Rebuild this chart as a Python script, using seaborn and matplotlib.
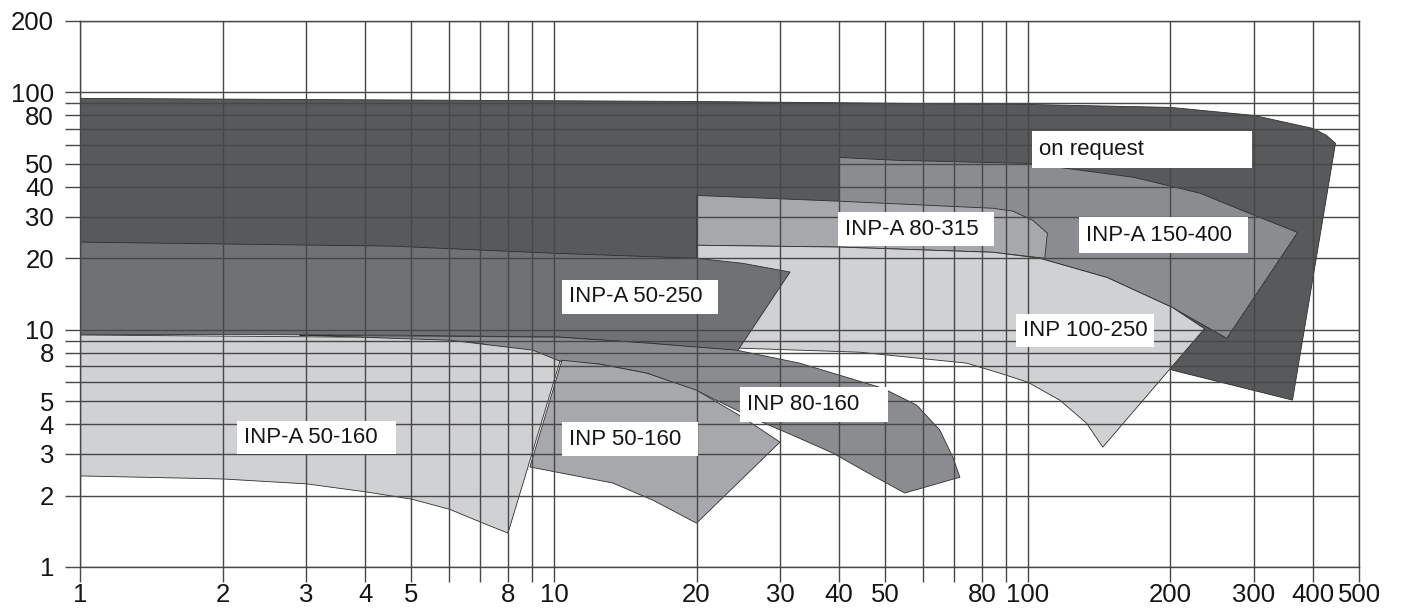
import matplotlib
matplotlib.use("Agg")
import matplotlib.pyplot as plt
import numpy as np
import pandas as pd
import seaborn as sns
from matplotlib.patches import Rectangle
from matplotlib.ticker import FixedLocator, FixedFormatter, NullLocator

# ---------------- data (flow Q on x, head H on y) ----------------
on_request_q = [1, 20, 100, 200, 300, 400, 427, 446, 362, 202, 156, 1]
on_request_h = [94.4, 91.6, 89.0, 86.5, 80, 70.5, 65.9, 61, 5.05, 6.75, 11.0, 13.3]

inpa_150_400_q = [40, 53.7, 101, 167, 231, 294, 371, 263, 202, 147, 106, 40]
inpa_150_400_h = [53.2, 51.7, 50.2, 43.9, 37.6, 30.9, 25.7, 9.2, 12.4, 16.6, 20.0, 21.6]

inpa_80_315_q = [20, 40, 84.4, 93, 102.5, 110, 108.6, 84.4, 40, 20]
inpa_80_315_h = [36.8, 34.8, 32.5, 31.6, 28.9, 25.5, 20.0, 21.2, 22.3, 22.7]

inp_100_250_q = [20, 40, 84.4, 106, 147, 202, 236, 144, 133, 116.8, 100, 87.3, 74.3, 44.2, 24.7, 20]
inp_100_250_h = [22.7, 22.3, 21.2, 20.0, 16.6, 12.4, 10.1, 3.2, 4.04, 5.05, 6.01, 6.56, 7.23, 8.04, 8.36, 8.52]

inpa_50_250_q = [1, 4.57, 10, 20, 25.0, 31.5, 24.4, 15.9, 10.3, 4.73, 1]
inpa_50_250_h = [23.4, 22.5, 21.0, 20.0, 19.05, 17.5, 8.12, 8.77, 9.30, 9.48, 9.57]

inp_80_160_q = [2.91, 10.3, 15.9, 24.3, 33.0, 49.4, 58.3, 65.2, 69.5, 71.9, 55.0,
                45.7, 38.8, 31.9, 26.3, 20.3, 15.7, 12.5, 10.3, 6.98, 3.9]
inp_80_160_h = [9.48, 9.30, 8.77, 8.2, 7.23, 5.67, 4.81, 3.78, 2.90, 2.39, 2.05,
                2.51, 3.02, 3.59, 4.24, 5.46, 6.56, 7.16, 7.37, 8.77, 9.3]

inp_50_160_q = [10.4, 12.5, 15.7, 20, 25.0, 30.0, 20, 16.2, 13.3, 8.9]
inp_50_160_h = [7.44, 7.16, 6.56, 5.56, 4.28, 3.36, 1.53, 1.91, 2.26, 2.64]

inpa_50_160_q = [1, 3.9, 6.04, 9.03, 10.3, 8.0, 6.98, 6.03, 5.02, 4.03, 3.01, 2.0, 1]
inpa_50_160_h = [9.5, 9.3, 9.03, 8.2, 7.37, 1.39, 1.55, 1.75, 1.93, 2.07, 2.24, 2.35, 2.42]

region_names = ["on request", "INP-A 150-400", "INP-A 80-315", "INP 100-250",
                "INP-A 50-250", "INP 80-160", "INP 50-160", "INP-A 50-160"]

x_grid = [1, 2, 3, 4, 5, 6, 7, 8, 9, 10, 20, 30, 40, 50, 60, 70, 80, 90, 100, 200, 300, 400, 500]
x_labels = [1, 2, 3, 4, 5, 8, 10, 20, 30, 40, 50, 80, 100, 200, 300, 400, 500]
y_grid = [1, 2, 3, 4, 5, 6, 7, 8, 9, 10, 20, 30, 40, 50, 60, 70, 80, 90, 100, 200]
y_labels = [1, 2, 3, 4, 5, 8, 10, 20, 30, 40, 50, 80, 100, 200]

# ---------------- styling / layout ----------------
polys = [
    (on_request_q, on_request_h, "#58595b"),
    (inpa_150_400_q, inpa_150_400_h, "#8b8c8f"),
    (inpa_80_315_q, inpa_80_315_h, "#a7a8ab"),
    (inp_100_250_q, inp_100_250_h, "#d0d1d3"),
    (inpa_50_250_q, inpa_50_250_h, "#707174"),
    (inp_80_160_q, inp_80_160_h, "#8b8c8f"),
    (inp_50_160_q, inp_50_160_h, "#a7a8ab"),
    (inpa_50_160_q, inpa_50_160_h, "#d0d1d3"),
]

# label boxes: x0, x1, y0, y1 in data units
label_boxes = {
    "on request": (102, 297, 47.9, 68.5),
    "INP-A 150-400": (128, 292, 21.0, 29.8),
    "INP-A 80-315": (39.7, 84.8, 22.5, 31.2),
    "INP-A 50-250": (10.4, 22.2, 11.7, 16.2),
    "INP 100-250": (94.4, 184.5, 8.44, 11.7),
    "INP 80-160": (24.7, 50.6, 4.08, 5.73),
    "INP 50-160": (10.4, 20.1, 2.93, 4.08),
    "INP-A 50-160": (2.14, 4.64, 2.99, 4.12),
}

sns.set_theme(style="white")
plt.rcParams['font.family'] = ['Liberation Sans', 'DejaVu Sans']

W, H = 1402, 616
fig = plt.figure(figsize=(W / 100, H / 100), dpi=100)
ax = fig.add_axes([80 / W, 49 / H, 1279 / W, 546 / H])
ax.set_xscale('log')
ax.set_yscale('log')

for i, (q, h, color) in enumerate(polys):
    z = 1 + i * 0.1
    ax.fill(q, h, facecolor=color, edgecolor='none', zorder=z)
    df = pd.DataFrame({'q': list(q) + [q[0]], 'h': list(h) + [h[0]]})
    sns.lineplot(data=df, x='q', y='h', sort=False, estimator=None,
                 color='#2e2e2e', linewidth=0.6, zorder=z + 0.05, ax=ax, legend=False)

ax.set_xlim(1, 500)
ax.set_ylim(1, 200)
ax.set_xlabel('')
ax.set_ylabel('')

gridc = '#474747'
ax.set_axisbelow(False)
ax.grid(True, which='major', color=gridc, linewidth=1.0)
ax.grid(False, which='minor')

ax.xaxis.set_major_locator(FixedLocator(x_grid))
ax.xaxis.set_major_formatter(FixedFormatter([str(v) if v in x_labels else '' for v in x_grid]))
ax.xaxis.set_minor_locator(NullLocator())
ax.yaxis.set_major_locator(FixedLocator(y_grid))
ax.yaxis.set_major_formatter(FixedFormatter([str(v) if v in y_labels else '' for v in y_grid]))
ax.yaxis.set_minor_locator(NullLocator())

ax.tick_params(axis='both', which='major', length=10.8, width=1.0, color=gridc,
               labelsize=18.5, labelcolor='#151515', direction='out')
ax.tick_params(axis='x', pad=1, bottom=True)
ax.tick_params(axis='y', pad=8, left=True)

for s in ax.spines.values():
    s.set_color(gridc)
    s.set_linewidth(1.0)

for name in region_names:
    x0, x1, y0, y1 = label_boxes[name]
    ax.add_patch(Rectangle((x0, y0), x1 - x0, y1 - y0, facecolor='white',
                           edgecolor='none', zorder=3))
    ax.annotate(name, xy=(x0, np.sqrt(y0 * y1)), xytext=(5, 0), textcoords='offset points',
                ha='left', va='center', fontsize=16, color='#151515', zorder=4)

fig.savefig('out.png', dpi=100)
